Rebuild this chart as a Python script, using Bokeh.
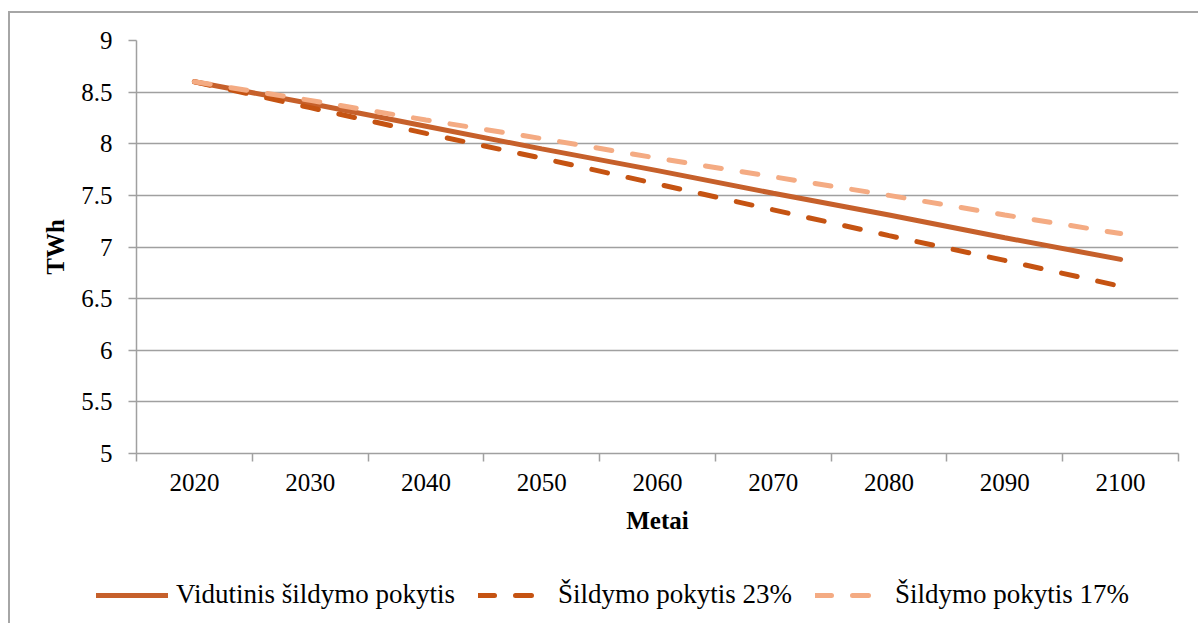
from bokeh.plotting import figure
from bokeh.models import Range1d, FixedTicker, Legend, LegendItem
from bokeh.embed import file_html
from bokeh.resources import INLINE

years = ["2020", "2030", "2040", "2050", "2060", "2070", "2080", "2090", "2100"]
vidutinis = [8.60, 8.39, 8.17, 7.95, 7.74, 7.52, 7.31, 7.09, 6.88]
pokytis_23 = [8.60, 8.35, 8.10, 7.86, 7.61, 7.36, 7.11, 6.87, 6.62]
pokytis_17 = [8.60, 8.42, 8.23, 8.05, 7.86, 7.68, 7.50, 7.31, 7.13]
y_ticks = [5, 5.5, 6, 6.5, 7, 7.5, 8, 8.5, 9]
y_labels = ["5", "5.5", "6", "6.5", "7", "7.5", "8", "8.5", "9"]
series_names = ["Vidutinis šildymo pokytis", "Šildymo pokytis 23%", "Šildymo pokytis 17%"]

FONT = "Liberation Serif"
GRAY = "#a0a0a0"
BORDER = "2px solid #a6a6a6"
styles_line = [
    dict(line_color="#c6602b", line_width=5, line_cap="round"),
    dict(line_color="#c55312", line_width=5, line_cap="round", line_dash="16 21"),
    dict(line_color="#f4ab83", line_width=5, line_cap="round", line_dash="16 21"),
]
series = [vidutinis, pokytis_23, pokytis_17]

xs = [i + 0.5 for i in range(len(years))]

p = figure(width=1188, height=540, output_backend="svg", toolbar_location=None,
           x_range=Range1d(0, len(years)), y_range=Range1d(5, 9),
           min_border_left=126, min_border_right=20, min_border_top=27,
           min_border_bottom=100)
p.frame_width = 1042
p.frame_height = 413
p.outline_line_color = None
p.background_fill_color = "white"
p.border_fill_color = "white"
p.styles = {"border-top": BORDER, "border-left": BORDER,
            "margin-top": "11px", "margin-left": "8px"}

# x axis: labels at category centres, tick marks at boundaries
p.xaxis.ticker = FixedTicker(ticks=xs, minor_ticks=list(range(len(years) + 1)))
p.xaxis.major_label_overrides = {x: y for x, y in zip(xs, years)}
p.xaxis.major_tick_out = 0
p.xaxis.major_tick_in = 0
p.xaxis.minor_tick_out = 8
p.xaxis.minor_tick_in = 0
p.xaxis.minor_tick_line_color = GRAY
p.xaxis.minor_tick_line_width = 1.5
p.xaxis.axis_line_color = GRAY
p.xaxis.axis_line_width = 1.5
p.xaxis.major_label_standoff = 12
p.xaxis.axis_label = "Metai"
p.xaxis.axis_label_standoff = 13

p.yaxis.ticker = FixedTicker(ticks=y_ticks, minor_ticks=[])
p.yaxis.major_label_overrides = {t: l for t, l in zip(y_ticks, y_labels)}
p.yaxis.major_tick_out = 8
p.yaxis.major_tick_in = 0
p.yaxis.major_tick_line_color = GRAY
p.yaxis.major_tick_line_width = 1.5
p.yaxis.axis_line_color = GRAY
p.yaxis.axis_line_width = 1.5
p.yaxis.major_label_standoff = 16
p.yaxis.axis_label = "TWh"
p.yaxis.axis_label_standoff = 9

for ax in (p.xaxis, p.yaxis):
    ax.major_label_text_font = FONT
    ax.major_label_text_font_size = "25px"
    ax.major_label_text_color = "black"
    ax.axis_label_text_font = FONT
    ax.axis_label_text_font_size = "25px"
    ax.axis_label_text_font_style = "bold"
    ax.axis_label_text_color = "black"

p.xgrid.grid_line_color = None
p.ygrid.ticker = FixedTicker(ticks=y_ticks)
p.ygrid.grid_line_color = GRAY
p.ygrid.grid_line_width = 1.5

for vals, st in zip(series, styles_line):
    p.line(xs, vals, **st)

# legend strip below the chart; its lines carry the same series but lie
# outside this strip's ranges, so only their legend samples are seen
q = figure(width=1188, height=70, output_backend="svg", toolbar_location=None,
           x_axis_location=None, y_axis_location=None, min_border=0,
           min_border_left=0, min_border_right=0, min_border_top=0,
           min_border_bottom=0, x_range=Range1d(0, 1), y_range=Range1d(0, 1))
q.outline_line_color = None
q.xgrid.visible = False
q.ygrid.visible = False
q.border_fill_color = "white"
q.background_fill_color = "white"
q.styles = {"border-left": BORDER, "margin-left": "8px"}
items = []
for name, vals, st in zip(series_names, series, styles_line):
    r = q.line(xs, vals, **st)
    items.append(LegendItem(label=name, renderers=[r]))

legend = Legend(items=items, orientation="horizontal", location=(86, 13))
legend.label_text_font = FONT
legend.label_text_font_size = "27px"
legend.label_text_color = "black"
legend.glyph_width = 72
legend.glyph_height = 24
legend.label_standoff = 8
legend.spacing = 23
legend.border_line_color = None
legend.background_fill_alpha = 0
legend.margin = 0
legend.padding = 6
q.add_layout(legend, "center")

open("out.html", "w").write(file_html([p, q], INLINE))
